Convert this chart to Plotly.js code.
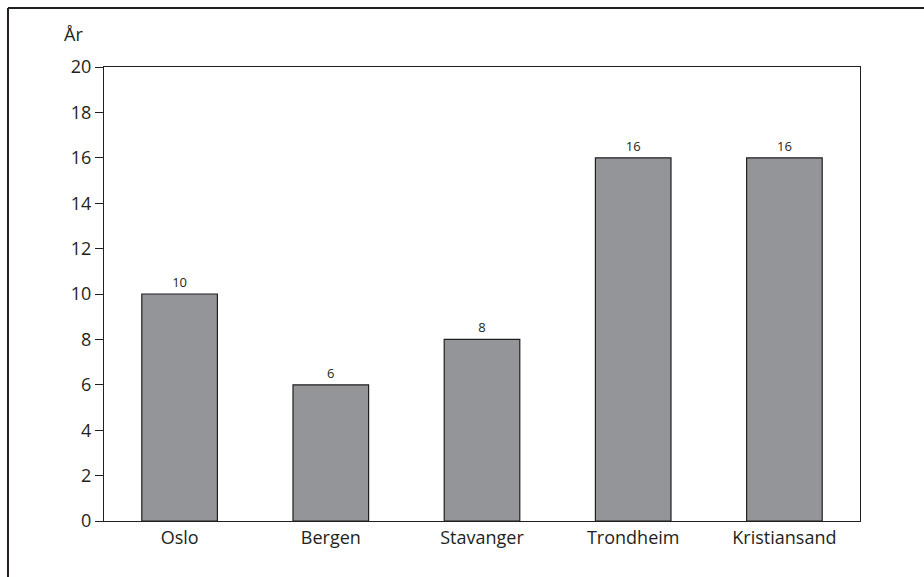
<!DOCTYPE html><html><head><meta charset="utf-8"><script src="https://cdn.plot.ly/plotly-3.0.1.min.js"></script></head><body style="margin:0"><div id="c" style="width:924px;height:577px"></div><script>
const cities=["Oslo","Bergen","Stavanger","Trondheim","Kristiansand"];
const years=[10,6,8,16,16];
const yTicks=[0,2,4,6,8,10,12,14,16,18,20];
Plotly.newPlot('c',[{type:'bar',x:cities,y:years,width:0.5,marker:{color:'#939598',line:{color:'#231f20',width:1.2}},text:years.map(String),textposition:'outside',textfont:{size:13,color:'#231f20'},cliponaxis:false}],{
width:924,height:577,margin:{l:104,r:64,t:67,b:56},font:{family:'Open Sans',color:'#231f20',size:18},
paper_bgcolor:'white',plot_bgcolor:'white',showlegend:false,
xaxis:{showline:true,mirror:true,linecolor:'#231f20',linewidth:1.2,ticks:'',tickfont:{size:18}},
yaxis:{range:[0,20],tickvals:yTicks,showline:true,mirror:true,linecolor:'#231f20',linewidth:1.2,ticks:'outside',ticklen:8,tickcolor:'#231f20',showgrid:false,zeroline:false,tickfont:{size:18}},
annotations:[{xref:'paper',yref:'paper',x:-0.04,y:1.042,xanchor:'center',yanchor:'bottom',text:'År',showarrow:false,font:{size:18}}],
shapes:[{type:'line',xref:'paper',yref:'paper',x0:-0.127,x1:1.2,y0:1.13,y1:1.13,line:{color:'#231f20',width:2}},
{type:'line',xref:'paper',yref:'paper',x0:-0.127,x1:-0.127,y0:1.13,y1:-0.2,line:{color:'#231f20',width:2}}]
},{displayModeBar:false});
</script></body></html>
